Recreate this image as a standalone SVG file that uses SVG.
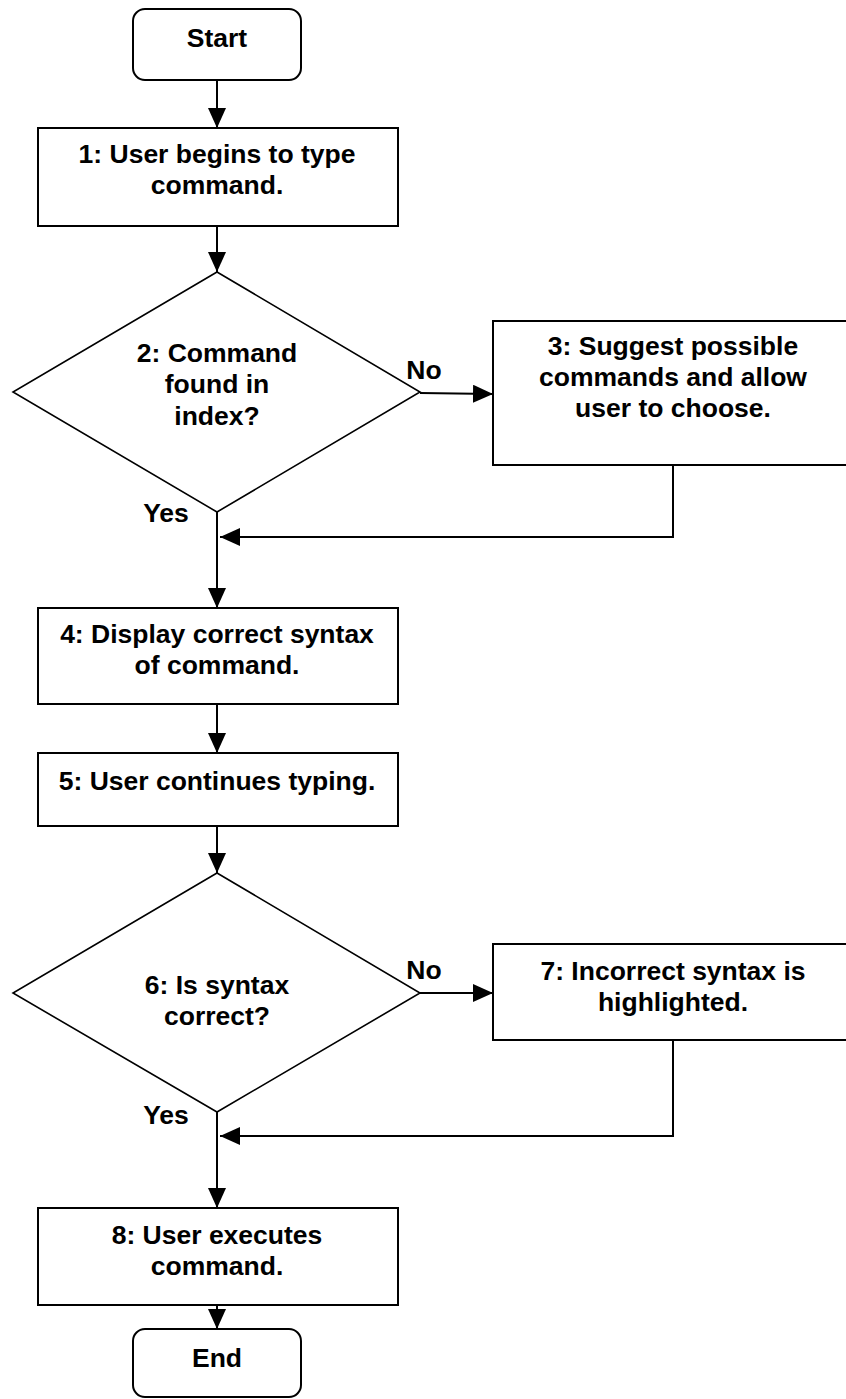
<svg xmlns="http://www.w3.org/2000/svg" width="846" height="1399" viewBox="0 0 846 1399">
<defs>
<style>
.box{fill:#fff;stroke:#000;stroke-width:2}
.dia{fill:#fff;stroke:#000;stroke-width:1.6}
.t{font-family:"Liberation Sans",Arial,sans-serif;font-weight:bold;font-size:26.5px;fill:#000;text-anchor:middle}
.c{fill:none;stroke:#000;stroke-width:2}
</style>
<marker id="ah" markerWidth="20" markerHeight="18" refX="20" refY="9" orient="auto" markerUnits="userSpaceOnUse">
<path d="M0,0 L20,9 L0,18 Z" fill="#000"/>
</marker>
</defs>
<rect width="846" height="1399" fill="#fff"/>
<g id="connectors">
<line class="c" x1="217" y1="80" x2="217" y2="128" marker-end="url(#ah)"/>
<line class="c" x1="217" y1="226" x2="217" y2="272" marker-end="url(#ah)"/>
<line class="c" x1="420" y1="393" x2="493" y2="394" marker-end="url(#ah)"/>
<polyline class="c" points="673,465 673,537 220,537" marker-end="url(#ah)"/>
<line class="c" x1="217" y1="512" x2="217" y2="608" marker-end="url(#ah)"/>
<line class="c" x1="217" y1="704" x2="217" y2="753" marker-end="url(#ah)"/>
<line class="c" x1="217" y1="826" x2="217" y2="873" marker-end="url(#ah)"/>
<line class="c" x1="420" y1="993" x2="493" y2="993" marker-end="url(#ah)"/>
<polyline class="c" points="673,1040 673,1136 220,1136" marker-end="url(#ah)"/>
<line class="c" x1="217" y1="1112" x2="217" y2="1208" marker-end="url(#ah)"/>
<line class="c" x1="217" y1="1305" x2="217" y2="1329" marker-end="url(#ah)"/>
<text class="t" x="424" y="379">No</text>
<text class="t" x="166" y="522">Yes</text>
<text class="t" x="424" y="979">No</text>
<text class="t" x="166" y="1124">Yes</text>
</g>
<g id="start">
<rect class="box" x="133" y="9" width="168" height="71" rx="12"/>
<text class="t" x="217" y="47">Start</text>
</g>
<g id="n1">
<rect class="box" x="38" y="128" width="360" height="98"/>
<text class="t" x="217" y="163">1: User begins to type</text>
<text class="t" x="217" y="194">command.</text>
</g>
<g id="n2">
<polygon class="dia" points="217,272 420,392 217,512 13,392"/>
<text class="t" x="217" y="362">2: Command</text>
<text class="t" x="217" y="393">found in</text>
<text class="t" x="217" y="425">index?</text>
</g>
<g id="n3">
<rect class="box" x="493" y="321" width="360" height="144"/>
<text class="t" x="673" y="355">3: Suggest possible</text>
<text class="t" x="673" y="386">commands and allow</text>
<text class="t" x="673" y="417">user to choose.</text>
</g>
<g id="n4">
<rect class="box" x="38" y="608" width="360" height="96"/>
<text class="t" x="217" y="643">4: Display correct syntax</text>
<text class="t" x="217" y="674">of command.</text>
</g>
<g id="n5">
<rect class="box" x="38" y="753" width="360" height="73"/>
<text class="t" x="217" y="790">5: User continues typing.</text>
</g>
<g id="n6">
<polygon class="dia" points="217,873 420,993 217,1112 13,993"/>
<text class="t" x="217" y="994">6: Is syntax</text>
<text class="t" x="217" y="1025">correct?</text>
</g>
<g id="n7">
<rect class="box" x="493" y="944" width="360" height="96"/>
<text class="t" x="673" y="980">7: Incorrect syntax is</text>
<text class="t" x="673" y="1011">highlighted.</text>
</g>
<g id="n8">
<rect class="box" x="38" y="1208" width="360" height="97"/>
<text class="t" x="217" y="1244">8: User executes</text>
<text class="t" x="217" y="1275">command.</text>
</g>
<g id="end">
<rect class="box" x="133" y="1329" width="168" height="68" rx="12"/>
<text class="t" x="217" y="1367">End</text>
</g>
</svg>
